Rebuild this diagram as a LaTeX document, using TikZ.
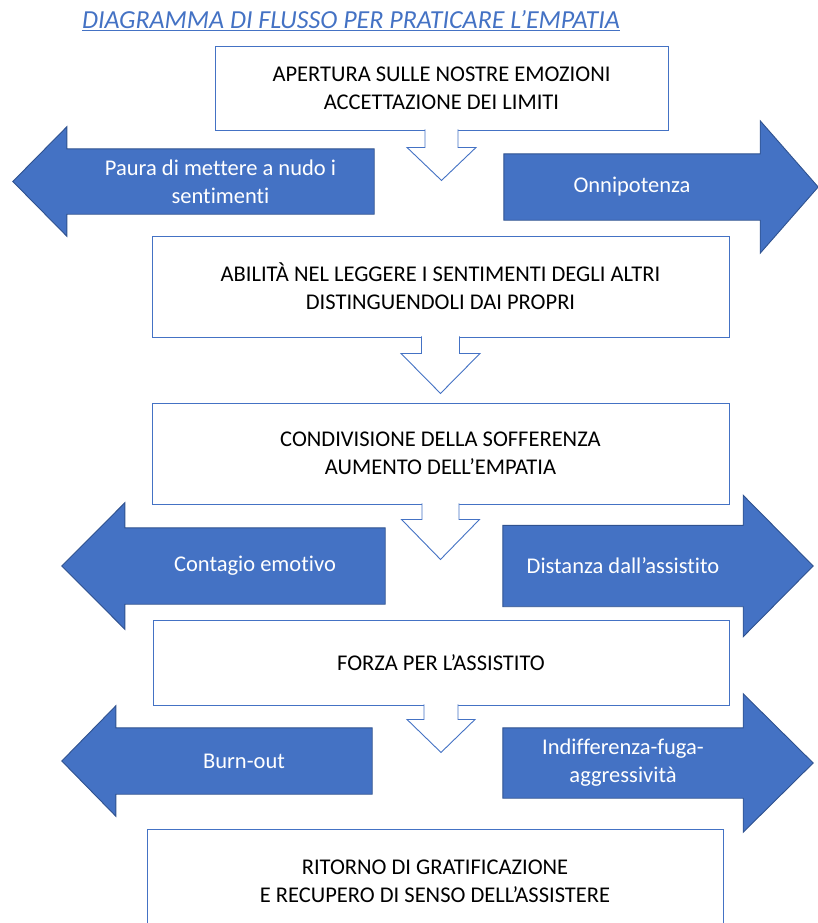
\documentclass[tikz,border=0pt]{standalone}
\usepackage{fontspec}
\setmainfont{Carlito}[Ligatures={NoCommon}]
\usetikzlibrary{backgrounds}
\definecolor{blu}{HTML}{4472C4}
\definecolor{blubordo}{HTML}{2F528F}
\tikzset{
  box/.style={draw=blu,line width=.9pt,fill=white,align=center,inner sep=0pt,font=\fontsize{22.5}{28}\selectfont},
  blocco/.style={align=center,inner sep=0pt,text=white,font=\fontsize{22.5}{28}\selectfont},
  freccia/.style={fill=blu,draw=blubordo,line width=.9pt},
  cava/.style={draw=blu,line width=.9pt,fill=white}
}
\begin{document}
\begin{tikzpicture}[x=1pt,y=-1pt,line join=miter]
\path[use as bounding box,clip] (0,0) rectangle (818,923);
% titolo
\node[font=\fontsize{26}{30}\selectfont\itshape,text=blu,anchor=base,inner sep=0pt] (titolo) at (351,29) {\underline{DIAGRAMMA DI FLUSSO PER PRATICARE L’EMPATIA}};
% riquadri
\node[box,minimum width=453pt,minimum height=84pt] (apertura) at (441.5,88) {APERTURA SULLE NOSTRE EMOZIONI\\ACCETTAZIONE DEI LIMITI};
\node[box,minimum width=577pt,minimum height=101pt] (abilita) at (440.5,286.5) {ABILITÀ NEL LEGGERE I SENTIMENTI DEGLI ALTRI\\DISTINGUENDOLI DAI PROPRI};
\node[box,minimum width=577pt,minimum height=101pt] (condivisione) at (440.5,453.5) {CONDIVISIONE DELLA SOFFERENZA\\AUMENTO DELL’EMPATIA};
\node[box,minimum width=576pt,minimum height=85pt] (forza) at (441,662.5) {FORZA PER L’ASSISTITO};
\node[box,minimum width=576pt,minimum height=104pt] (ritorno) at (435,881) {RITORNO DI GRATIFICAZIONE\\E RECUPERO DI SENSO DELL’ASSISTERE};
% frecce verso il basso
\foreach \da/\sw/\hw/\sl/\hl in {apertura/33/69/17/33,abilita/38/79/16/40,condivisione/37/78/15/40,forza/34/68/14/33}
  \draw[cava] ([xshift={-\sw*0.5pt},yshift=1pt]\da.south) -- ++(0,\sl+1) -- ++({-(\hw-\sw)/2},0) -- ++({\hw/2},\hl) -- ++({\hw/2},-\hl) -- ++({-(\hw-\sw)/2},0) -- ++(0,-\sl-1);
% frecce laterali
\node[blocco,minimum width=307pt,minimum height=65pt] (paura) at (220.5,181.5) {Paura di mettere a nudo i\\sentimenti};
\node[blocco,minimum width=256pt,minimum height=66pt] (onni) at (632,187) {Onnipotenza};
\node[blocco,minimum width=260pt,minimum height=76pt] (contagio) at (255,566) {Contagio emotivo};
\node[blocco,minimum width=240pt,minimum height=81pt] (distanza) at (623,566) {Distanza dall’assistito};
\node[blocco,minimum width=256pt,minimum height=66pt] (burnout) at (244,761) {Burn-out};
\node[blocco,minimum width=240pt,minimum height=70pt] (indiff) at (623,763) {Indifferenza-fuga-\\aggressività};
\begin{scope}[on background layer]
\foreach \n/\e/\l in {paura/22/54,contagio/25/63,burnout/22/54}
  \draw[freccia] (\n.north east) -- (\n.north west) -- ([yshift=\e pt]\n.north west) -- ([xshift=-\l pt]\n.west) -- ([yshift=-\e pt]\n.south west) -- (\n.south west) -- (\n.south east) -- cycle;
\foreach \n/\e/\l in {onni/33/58,distanza/30/70,indiff/34/70}
  \draw[freccia] (\n.north west) -- (\n.north east) -- ([yshift=\e pt]\n.north east) -- ([xshift=\l pt]\n.east) -- ([yshift=-\e pt]\n.south east) -- (\n.south east) -- (\n.south west) -- cycle;
\end{scope}
\end{tikzpicture}
\end{document}
